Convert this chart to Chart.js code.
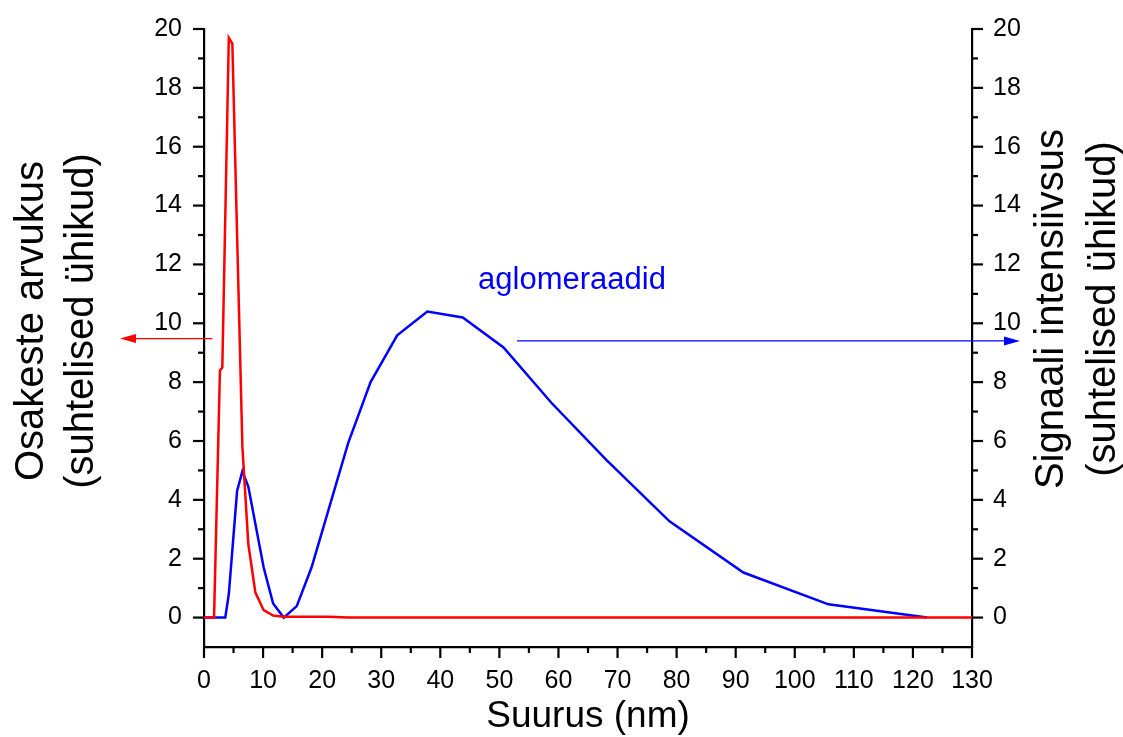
<!DOCTYPE html>
<html>
<head>
<meta charset="utf-8">
<script src="https://cdn.jsdelivr.net/npm/chart.js@4"></script>
<style>
  body { margin: 0; background: #fff; }
  canvas { display: block; }
</style>
</head>
<body>
<canvas id="chart" width="1123" height="737"></canvas>
<script>
// Osakeste arvukus (punane) ja signaali intensiivsus (sinine) suuruse järgi
const sizeRed = [0, 1.7, 2.7, 3.1, 4.2, 4.8, 5.6, 6.5, 7.5, 8.7, 10.1, 11.7, 13.5, 21.0, 24.4, 130];
const countRed = [0, 0, 8.4, 8.5, 19.7, 19.5, 13.0, 5.8, 2.5, 0.85, 0.25, 0.07, 0.03, 0.03, 0, 0];

const sizeBlue = [0, 3.6, 4.2, 5.6, 6.5, 7.5, 10.1, 11.7, 13.5, 15.7, 18.2, 24.4, 28.2, 32.7, 37.8, 43.8, 50.7, 58.8, 68.1, 78.8, 91.3, 105.7, 122.4];
const signalBlue = [0, 0, 0.8, 4.3, 4.97, 4.45, 1.7, 0.48, 0, 0.39, 1.7, 5.93, 8.0, 9.59, 10.4, 10.2, 9.18, 7.3, 5.36, 3.27, 1.53, 0.45, 0];

// Telgede piirid ja sammud
const xRange = [0, 130];
const xStep = 5;
const xLabelEvery = 10;
const yRange = [-1, 20];
const yStep = 1;
const yLabelEvery = 2;

const leftTitle = ['Osakeste arvukus', '(suhtelised ühikud)'];
const rightTitle = ['Signaali intensiivsus', '(suhtelised ühikud)'];
const xTitle = 'Suurus (nm)';
const note = 'aglomeraadid';

const FONT = "'Liberation Sans', Arial, sans-serif";
const RED = '#ff0000';
const BLUE = '#0000ff';

const toPoints = (xs, ys) => xs.map((x, i) => ({ x: x, y: ys[i] }));

// Tikud: suured sildiga väärtustel, väikesed vahepeal
const tickMarks = {
    id: 'tickMarks',
    afterDraw(chart) {
        const ctx = chart.ctx;
        ctx.save();
        ctx.strokeStyle = '#000';
        ctx.lineWidth = 2.2;
        Object.values(chart.scales).forEach(scale => {
            const every = scale.axis === 'x' ? xLabelEvery : yLabelEvery;
            scale.ticks.forEach(t => {
                if (t.value < 0) return;
                const len = t.value % every === 0 ? 11 : 6;
                const p = scale.getPixelForValue(t.value);
                ctx.beginPath();
                if (scale.id === 'x') {
                    ctx.moveTo(p, scale.top); ctx.lineTo(p, scale.top + len);
                } else if (scale.position === 'left') {
                    ctx.moveTo(scale.right, p); ctx.lineTo(scale.right - len, p);
                } else {
                    ctx.moveTo(scale.left, p); ctx.lineTo(scale.left + len, p);
                }
                ctx.stroke();
            });
        });
        ctx.restore();
    }
};

const arrow = (ctx, x1, x2, y, color) => {
    const dir = Math.sign(x2 - x1);
    ctx.strokeStyle = color;
    ctx.fillStyle = color;
    ctx.lineWidth = 1.3;
    ctx.beginPath();
    ctx.moveTo(x1, y);
    ctx.lineTo(x2 - dir * 14, y);
    ctx.stroke();
    ctx.beginPath();
    ctx.moveTo(x2, y);
    ctx.lineTo(x2 - dir * 16, y - 4.5);
    ctx.lineTo(x2 - dir * 16, y + 4.5);
    ctx.closePath();
    ctx.fill();
};

// Telgede pealkirjad, märkus ja nooled
const decorations = {
    id: 'decorations',
    afterDraw(chart) {
        const { ctx, chartArea, scales } = chart;
        const x = scales.x, y = scales.y;
        ctx.save();
        ctx.fillStyle = '#000';
        ctx.textAlign = 'center';
        ctx.textBaseline = 'alphabetic';

        ctx.font = '40px ' + FONT;
        leftTitle.forEach((line, i) => {
            ctx.save();
            ctx.translate(43 + i * 50, 321);
            ctx.rotate(-Math.PI / 2);
            ctx.fillText(line, 0, 0);
            ctx.restore();
        });
        rightTitle.forEach((line, i) => {
            ctx.save();
            ctx.translate(chartArea.right + 91 + i * 52, 309);
            ctx.rotate(-Math.PI / 2);
            ctx.fillText(line, 0, 0);
            ctx.restore();
        });

        ctx.font = '37px ' + FONT;
        ctx.fillText(xTitle, (chartArea.left + chartArea.right) / 2, 727);

        ctx.font = '31px ' + FONT;
        ctx.fillStyle = BLUE;
        ctx.textAlign = 'left';
        ctx.fillText(note, x.getPixelForValue(46.4), y.getPixelForValue(11.15));

        arrow(ctx, x.getPixelForValue(1.4), chartArea.left - 84, y.getPixelForValue(9.48), RED);
        arrow(ctx, x.getPixelForValue(53), chartArea.right + 48, y.getPixelForValue(9.4), BLUE);
        ctx.restore();
    }
};

const tickFont = { family: FONT, size: 25 };

const chart = new Chart(document.getElementById('chart'), {
    type: 'line',
    data: {
        datasets: [
            {
                data: toPoints(sizeRed, countRed),
                borderColor: RED,
                borderWidth: 2.5,
                pointRadius: 0,
                tension: 0,
                yAxisID: 'y'
            },
            {
                data: toPoints(sizeBlue, signalBlue),
                borderColor: BLUE,
                borderWidth: 2.5,
                pointRadius: 0,
                tension: 0,
                yAxisID: 'y2'
            }
        ]
    },
    options: {
        responsive: false,
        animation: false,
        layout: { padding: { top: 17, left: 0, right: 0, bottom: 0 } },
        plugins: {
            legend: { display: false },
            tooltip: { enabled: false }
        },
        scales: {
            x: {
                type: 'linear',
                min: xRange[0],
                max: xRange[1],
                grid: { display: false },
                border: { display: true, color: '#000', width: 2.2 },
                ticks: {
                    stepSize: xStep,
                    autoSkip: false,
                    maxRotation: 0,
                    padding: 11,
                    color: '#000',
                    font: tickFont,
                    callback: v => (v % xLabelEvery === 0 ? v : '')
                },
                afterFit: s => { s.height = 90; }
            },
            y: {
                position: 'left',
                min: yRange[0],
                max: yRange[1],
                grid: { display: false },
                border: { display: true, color: '#000', width: 2.2 },
                ticks: {
                    stepSize: yStep,
                    autoSkip: false,
                    padding: 14,
                    color: '#000',
                    font: tickFont,
                    callback: v => (v >= 0 && v % yLabelEvery === 0 ? v : '')
                },
                afterFit: s => { s.width = 204; }
            },
            y2: {
                position: 'right',
                min: yRange[0],
                max: yRange[1],
                grid: { display: false },
                border: { display: true, color: '#000', width: 2.2 },
                ticks: {
                    stepSize: yStep,
                    autoSkip: false,
                    padding: 13,
                    color: '#000',
                    font: tickFont,
                    callback: v => (v >= 0 && v % yLabelEvery === 0 ? v : '')
                },
                afterFit: s => { s.width = 151; }
            }
        }
    },
    plugins: [tickMarks, decorations]
});
</script>
</body>
</html>
